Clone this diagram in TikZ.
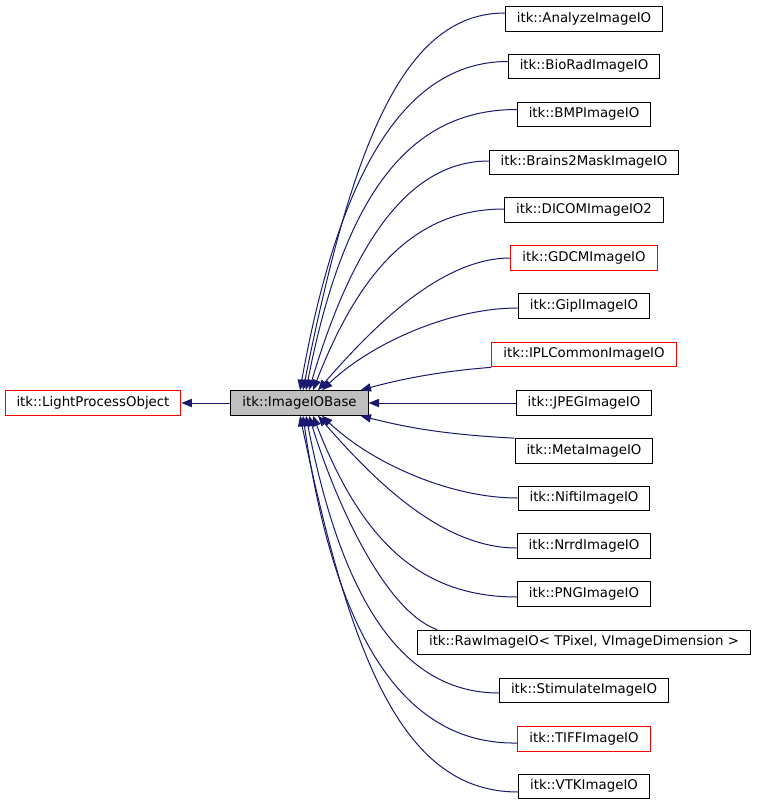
\documentclass[tikz,border=0pt]{standalone}
\usepackage{fontspec}
\setmainfont{DejaVu Sans}
\usetikzlibrary{arrows.meta,calc}
\definecolor{edgeblue}{HTML}{191970}
\definecolor{boxred}{HTML}{FF0000}
\definecolor{basegray}{HTML}{BFBFBF}
\begin{document}
\begin{tikzpicture}[x=0.75pt,y=-0.75pt,
  cls/.style={draw=black, line width=0.75pt, inner xsep=8.6pt, inner ysep=4.5pt,
    text height=7.3pt, text depth=2.2pt, font=\fontsize{10}{12}\selectfont, fill=white},
  redcls/.style={cls, draw=boxred},
  basecls/.style={cls, fill=basegray},
  inh/.style={draw=edgeblue, line width=0.75pt, -{Triangle[length=7.8pt,width=6.2pt]}, fill=none}]
\useasboundingbox (0,0) rectangle (757,803);
\fill[white] (0,0) rectangle (757,803);

\node[redcls] (lpo) at (93,403) {itk::LightProcessObject};
\node[basecls] (base) at (299.5,403) {itk::ImageIOBase};

\node[cls] (analyze) at (584,19) {itk::AnalyzeImageIO};
\node[cls] (biorad) at (584,66.5) {itk::BioRadImageIO};
\node[cls] (bmp) at (584,114.5) {itk::BMPImageIO};
\node[cls] (brains) at (584,162.5) {itk::Brains2MaskImageIO};
\node[cls] (dicom) at (584,210) {itk::DICOMImageIO2};
\node[redcls] (gdcm) at (584,258) {itk::GDCMImageIO};
\node[cls] (gipl) at (584,306) {itk::GiplImageIO};
\node[redcls] (ipl) at (584,354.5) {itk::IPLCommonImageIO};
\node[cls] (jpeg) at (584,403) {itk::JPEGImageIO};
\node[cls] (meta) at (584,451) {itk::MetaImageIO};
\node[cls] (nifti) at (584,498.5) {itk::NiftiImageIO};
\node[cls] (nrrd) at (584,546) {itk::NrrdImageIO};
\node[cls] (png) at (584,594) {itk::PNGImageIO};
\node[cls] (raw) at (584,642.5) {itk::RawImageIO< TPixel, VImageDimension >};
\node[cls] (stim) at (584,690.5) {itk::StimulateImageIO};
\node[redcls] (tiff) at (584,739) {itk::TIFFImageIO};
\node[cls] (vtk) at (584,786.5) {itk::VTKImageIO};

\draw[inh] (base.west) -- (lpo.east);

% upper children
\draw[inh] ($(analyze.west)+(0,-6)$) .. controls +(-100,0) and +(50,-250) .. ($(base.north)+(3.5,0)$);
\draw[inh] ($(biorad.west)+(0,-5)$) .. controls +(-95,0) and +(42,-235) .. ($(base.north)+(0.5,0)$);
\draw[inh] ($(bmp.west)+(0,-5)$) .. controls +(-102,0) and +(40,-205) .. ($(base.north)+(6.5,0)$);
\draw[inh] ($(brains.west)+(0,-1.5)$) .. controls +(-76,0) and +(46,-155) .. ($(base.north)+(9.5,0)$);
\draw[inh] ($(dicom.west)+(0,-1)$) .. controls +(-90,0) and +(46,-118) .. ($(base.north)+(13.5,0)$);
\draw[inh] (gdcm.west) .. controls +(-70,0) and +(54,-62) .. ($(base.north)+(18.5,0)$);
\draw[inh] ($(gipl.west)+(0,2)$) .. controls +(-69,0) and +(48,-46) .. ($(base.north)+(22.5,0)$);
\draw[inh] (ipl.south west) .. controls +(-52,4) and +(40,-11) .. ($(base.north east)+(-8,0)$);
\draw[inh] (jpeg.west) -- (base.east);
\draw[inh] (meta.north west) .. controls +(-77,-4) and +(40,10) .. ($(base.south east)+(-8,0)$);

% lower children
\draw[inh] ($(nifti.west)+(0,-0.5)$) .. controls +(-69,0) and +(48,46) .. ($(base.south)+(22.5,0)$);
\draw[inh] ($(nrrd.west)+(0,2)$) .. controls +(-76,0) and +(54,62) .. ($(base.south)+(18.5,0)$);
\draw[inh] ($(png.west)+(0,3)$) .. controls +(-102,0) and +(46,118) .. ($(base.south)+(13.5,0)$);
\draw[inh] ($(raw.north west)+(20,0)$) .. controls +(-55,-20) and +(24,78) .. ($(base.south)+(9.5,0)$);
\draw[inh] ($(stim.west)+(0,2.5)$) .. controls +(-86,0) and +(40,205) .. ($(base.south)+(6.5,0)$);
\draw[inh] ($(tiff.west)+(0,4)$) .. controls +(-104,2) and +(34,238) .. ($(base.south)+(3.5,0)$);
\draw[inh] ($(vtk.west)+(0,5.5)$) .. controls +(-114,0) and +(52,248) .. ($(base.south)+(0.5,0)$);
\end{tikzpicture}
\end{document}
